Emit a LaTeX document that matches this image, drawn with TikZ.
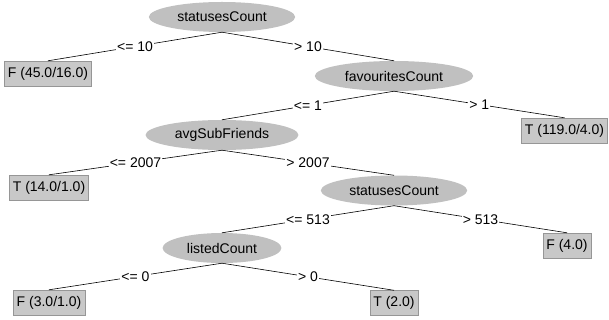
\documentclass[tikz,border=0pt]{standalone}
\usepackage{fontspec}
\setmainfont{Liberation Sans}
\usetikzlibrary{positioning,shapes.geometric}
\definecolor{splitgray}{RGB}{192,192,192}
\definecolor{leafgray}{RGB}{200,200,200}
\definecolor{leafline}{RGB}{150,150,150}

\begin{document}
\begin{tikzpicture}[x=1pt,y=-1pt,font=\fontsize{14}{16}\selectfont,
  split/.style={ellipse,fill=splitgray,minimum height=30pt,inner xsep=7pt,inner ysep=0pt},
  leaf/.style={draw=leafline,fill=leafgray,minimum height=25pt,inner xsep=3.5pt,inner ysep=0pt},
  cond/.style={fill=white,inner sep=1pt},
  edge/.style={draw=black,line width=0.6pt}]
\useasboundingbox (0,0) rectangle (609,320);
\node[split] (sc) at (222,17) {statusesCount};
\node[leaf] (lfa) at (48,73.5) {F (45.0/16.0)};
\node[split] (fc) at (394,76) {favouritesCount};
\node[leaf] (lfb) at (564.5,130.5) {T (119.0/4.0)};
\node[split] (asf) at (222,135) {avgSubFriends};
\node[leaf] (lfc) at (49,187.5) {T (14.0/1.0)};
\node[split] (scb) at (394,190.5) {statusesCount};
\node[leaf] (lfd) at (567,245.5) {F (4.0)};
\node[split] (lc) at (222,248) {listedCount};
\node[leaf] (lfe) at (49,302.5) {F (3.0/1.0)};
\node[leaf] (lff) at (394,303) {T (2.0)};
\path[edge] (sc.south) -- node[cond] {<= 10} (lfa.north);
\path[edge] (sc.south) -- node[cond] {> 10} (fc.north);
\path[edge] (fc.south) -- node[cond] {<= 1} (asf.north);
\path[edge] (fc.south) -- node[cond] {> 1} (lfb.north);
\path[edge] (asf.south) -- node[cond] {<= 2007} (lfc.north);
\path[edge] (asf.south) -- node[cond] {> 2007} (scb.north);
\path[edge] (scb.south) -- node[cond] {<= 513} (lc.north);
\path[edge] (scb.south) -- node[cond] {> 513} (lfd.north);
\path[edge] (lc.south) -- node[cond] {<= 0} (lfe.north);
\path[edge] (lc.south) -- node[cond] {> 0} (lff.north);
\end{tikzpicture}
\end{document}
